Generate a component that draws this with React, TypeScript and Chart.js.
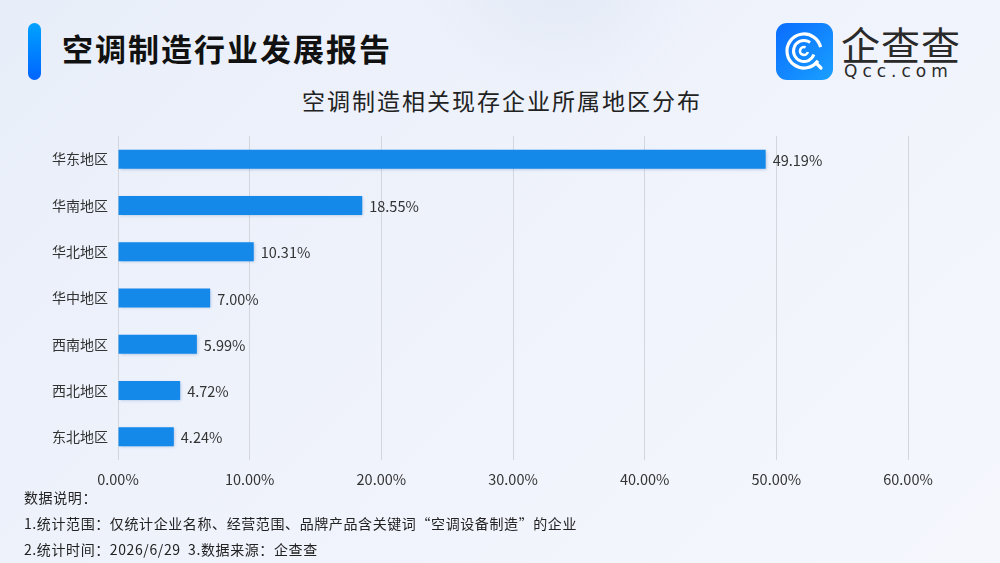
import React, { useEffect, useRef } from "react";
import { Chart, registerables } from "chart.js";

Chart.register(...registerables);

const categories = ["华东地区", "华南地区", "华北地区", "华中地区", "西南地区", "西北地区", "东北地区"];
const shares = [49.19, 18.55, 10.31, 7.0, 5.99, 4.72, 4.24];
const xTicks = [0, 10, 20, 30, 40, 50, 60];

const FONT = '"Noto Sans CJK SC", "Noto Sans", sans-serif';

const labelPlugin = {
  id: "barLabels",
  beforeDatasetDraw(chart: any) {
    const ctx = chart.ctx;
    ctx.save();
    ctx.shadowColor = "rgba(20,80,160,0.28)";
    ctx.shadowBlur = 3;
    ctx.shadowOffsetX = 1;
    ctx.shadowOffsetY = 1;
  },
  afterDatasetDraw(chart: any) {
    chart.ctx.restore();
  },
  afterDatasetsDraw(chart: any) {
    const ctx = chart.ctx;
    const meta = chart.getDatasetMeta(0);
    ctx.save();
    ctx.font = `14.5px ${FONT}`;
    ctx.fillStyle = "#333333";
    ctx.textBaseline = "middle";
    ctx.textAlign = "left";
    meta.data.forEach((bar: any, i: number) => {
      ctx.fillText(shares[i].toFixed(2) + "%", bar.x + 7, bar.y + 1);
    });
    ctx.restore();
  },
};

function BarChart() {
  const ref = useRef<HTMLCanvasElement>(null);
  useEffect(() => {
    if (!ref.current) return;
    const chart = new Chart(ref.current, {
      type: "bar",
      data: {
        labels: categories,
        datasets: [
          {
            data: shares,
            backgroundColor: "#1589EA",
            barPercentage: 0.41,
            categoryPercentage: 1,
          },
        ],
      },
      options: {
        indexAxis: "y",
        responsive: false,
        animation: false,
        maintainAspectRatio: false,
        layout: { padding: { left: 0, right: 92, top: 136, bottom: 0 } },
        plugins: { legend: { display: false }, tooltip: { enabled: false } },
        scales: {
          x: {
            min: 0,
            max: 60,
            afterBuildTicks(scale: any) {
              scale.ticks = xTicks.map((v) => ({ value: v }));
            },
            afterFit(scale: any) {
              scale.height = 103;
            },
            grid: { color: "#d3d6dc", drawTicks: false, lineWidth: 1 },
            border: { display: false },
            ticks: {
              padding: 11,
              color: "#333333",
              font: { family: FONT, size: 14.5 },
              callback: (v: any) => Number(v).toFixed(2) + "%",
            },
          },
          y: {
            afterFit(scale: any) {
              scale.width = 118;
            },
            grid: { display: false, drawTicks: false },
            border: { display: false },
            ticks: {
              padding: 10,
              color: "#333333",
              font: { family: FONT, size: 14 },
            },
          },
        },
      },
      plugins: [labelPlugin],
    });
    return () => chart.destroy();
  }, []);
  return (
    <canvas
      ref={ref}
      width={1000}
      height={563}
      style={{ position: "absolute", left: 0, top: 0, width: 1000, height: 563 }}
    />
  );
}

export default function App() {
  return (
    <div
      style={{
        position: "fixed",
        left: 0,
        top: 0,
        width: 1000,
        height: 563,
        overflow: "hidden",
        fontFamily: FONT,
        background:
          "radial-gradient(circle at 560px -40px, rgba(225,232,245,0.9) 0px, rgba(225,232,245,0) 150px), linear-gradient(135deg, #e8eef9 0%, #eef2fb 40%, #f5f7fd 100%)",
      }}
    >
      <div
        style={{
          position: "absolute",
          left: 28,
          top: 23,
          width: 13,
          height: 57,
          borderRadius: 7,
          background: "linear-gradient(180deg, #00a2ff 0%, #0064ff 100%)",
        }}
      />
      <div
        style={{
          position: "absolute",
          left: 62,
          top: 26,
          fontSize: 31,
          fontWeight: 700,
          color: "#111111",
          lineHeight: "44px",
          letterSpacing: 2,
        }}
      >
        空调制造行业发展报告
      </div>
      <div
        style={{
          position: "absolute",
          left: 2,
          width: 1000,
          top: 84,
          textAlign: "center",
          fontSize: 23,
          color: "#222222",
          lineHeight: "32px",
          letterSpacing: 2,
        }}
      >
        空调制造相关现存企业所属地区分布
      </div>
      <div
        style={{
          position: "absolute",
          left: 776,
          top: 23,
          width: 57,
          height: 57,
          borderRadius: 11,
          background: "linear-gradient(135deg, #0a6cff 0%, #1aa0ff 100%)",
        }}
      >
        <svg width={57} height={57} viewBox="0 0 57 57">
          <circle cx={28} cy={28} r={17} fill="none" stroke="#fff" strokeWidth={3.2} strokeDasharray="92 15" transform="rotate(35 28 28)" />
          <circle cx={28} cy={28} r={10.5} fill="none" stroke="#fff" strokeWidth={3} strokeDasharray="52 14" transform="rotate(20 28 28)" />
          <circle cx={28} cy={28} r={4} fill="none" stroke="#fff" strokeWidth={2.6} strokeDasharray="19 6" transform="rotate(15 28 28)" />
          <line x1={40} y1={40} x2={45} y2={45} stroke="#fff" strokeWidth={3.2} strokeLinecap="round" />
        </svg>
      </div>
      <div
        style={{
          position: "absolute",
          left: 841,
          top: 20,
          fontSize: 39,
          color: "#2a2a2a",
          lineHeight: "46px",
          letterSpacing: 1,
        }}
      >
        企查查
      </div>
      <div
        style={{
          position: "absolute",
          left: 844,
          top: 60,
          fontSize: 17,
          color: "#2a2a2a",
          lineHeight: "22px",
          letterSpacing: 5,
          fontFamily: '"DejaVu Sans", sans-serif',
        }}
      >
        Qcc.com
      </div>
      <BarChart />
      <div
        style={{
          position: "absolute",
          left: 24,
          top: 484,
          fontSize: 14,
          color: "#222222",
          lineHeight: "26px",
          letterSpacing: 0.6,
        }}
      >
        <div>数据说明：</div>
        <div>1.统计范围：仅统计企业名称、经营范围、品牌产品含关键词“空调设备制造”的企业</div>
        <div>2.统计时间：2026/6/29&nbsp;&nbsp;3.数据来源：企查查</div>
      </div>
    </div>
  );
}
